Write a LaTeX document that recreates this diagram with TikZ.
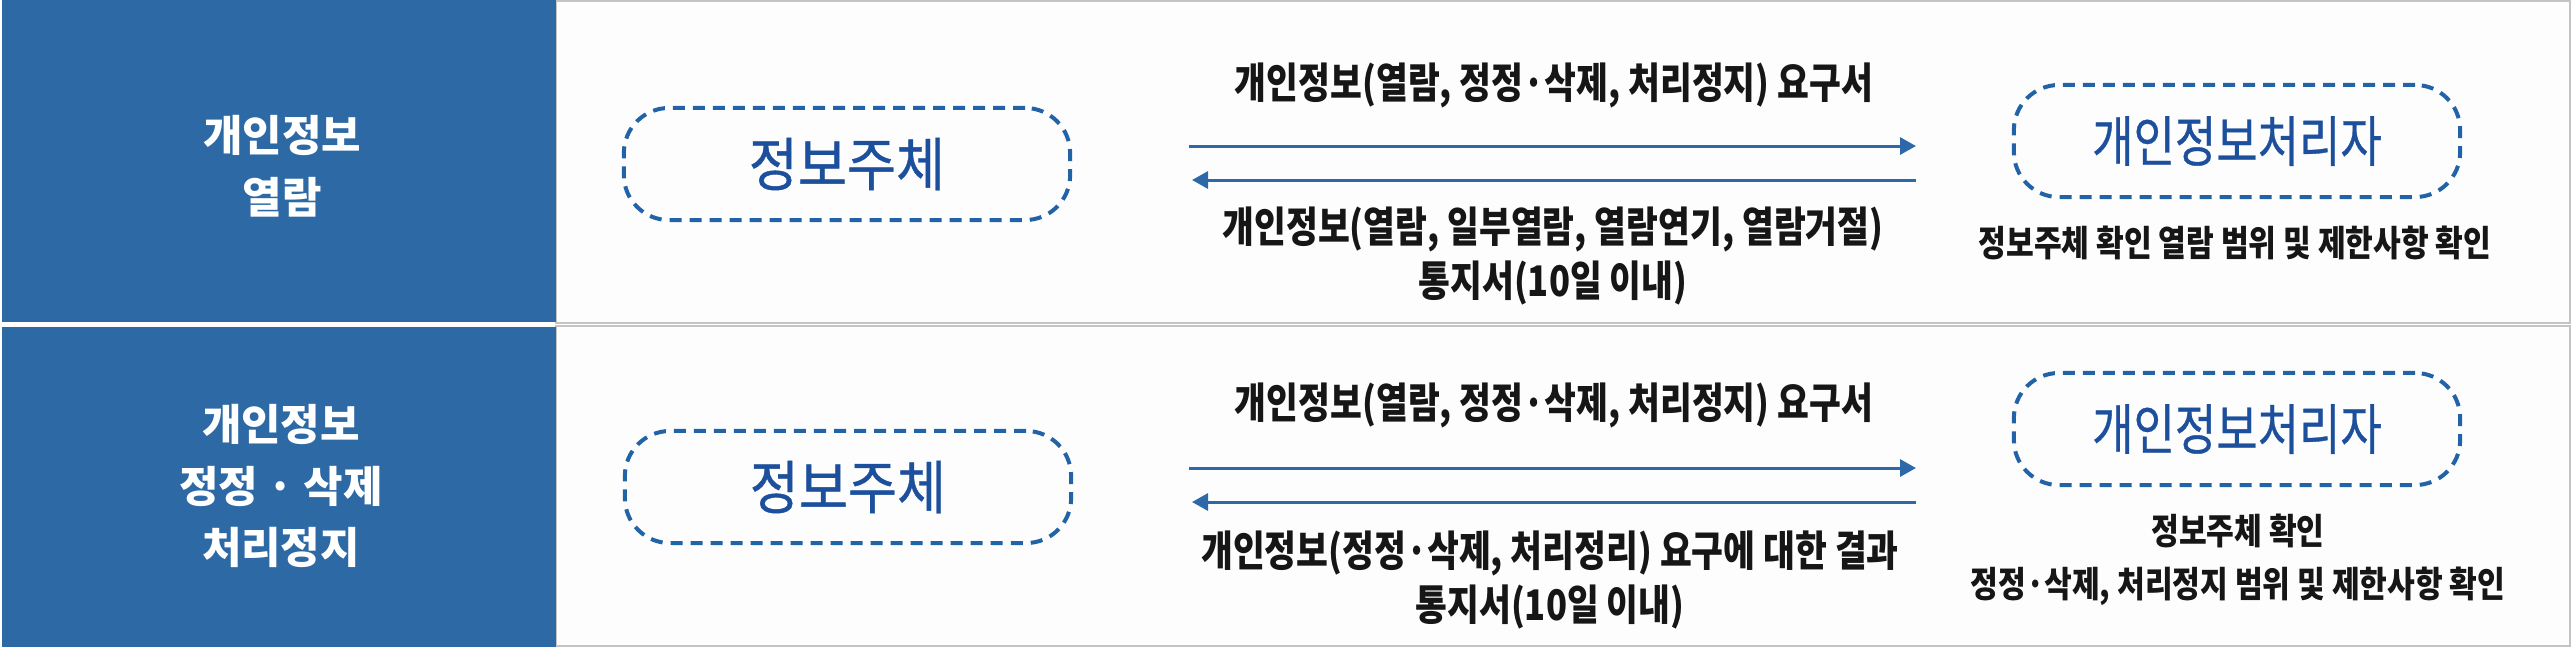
\documentclass[tikz,border=0pt]{standalone}
\usepackage{fontspec}
\newfontfamily\kr{Noto Sans CJK KR}
\newfontfamily\krn{Noto Sans CJK KR}[FakeStretch=0.82]
\newfontfamily\krs{Noto Sans CJK KR}[FakeStretch=0.92,FakeBold=0.7]
\newfontfamily\krq{Noto Sans CJK KR}[FakeStretch=0.82,FakeBold=0.6]
\newfontfamily\krp{Noto Sans CJK KR}[FakeStretch=0.84]
\usetikzlibrary{arrows.meta}
\definecolor{bandblue}{HTML}{2C69A5}
\definecolor{dashblue}{HTML}{2263A8}
\definecolor{txtblue}{HTML}{1C4F9C}
\definecolor{arrowblue}{HTML}{2D68A8}
\definecolor{panelline}{HTML}{C4C4C4}
\definecolor{panelfill}{HTML}{FDFDFE}
\definecolor{ink}{HTML}{161616}
\tikzset{
  band/.style={fill=bandblue, draw=none},
  panel/.style={fill=panelfill, draw=panelline, line width=0.025cm},
  bandlabel/.style={text=white, align=center, inner sep=0pt,
    font=\kr\bfseries\fontsize{12.2pt}{17.6pt}\selectfont},
  actorbox/.style={draw=dashblue, line width=0.04cm, dash pattern=on 0.12cm off 0.08cm,
    rounded corners=0.45cm, minimum width=4.46cm, minimum height=1.12cm,
    text=txtblue, inner sep=0pt},
  subjfont/.style={font=\krs\fontsize{16.5pt}{18pt}\selectfont},
  procfont/.style={font=\krq\fontsize{15.6pt}{18pt}\selectfont},
  msg/.style={text=ink, align=center, inner sep=0pt,
    font=\krn\bfseries\fontsize{12pt}{15.1pt}\selectfont},
  note/.style={text=ink, align=center, inner sep=0pt,
    font=\krp\bfseries\fontsize{10.2pt}{15.1pt}\selectfont},
  flow/.style={draw=arrowblue, line width=0.03cm,
    -{Triangle[length=0.16cm,width=0.17cm]}, arrowblue}
}
\begin{document}
\begin{tikzpicture}[x=0.01cm, y=-0.01cm]
\useasboundingbox[fill=white] (0,0) rectangle (2572,656);
% row panels
\draw[panel] (556,1) rectangle (2570,323);
\draw[panel] (556,326) rectangle (2570,646);
\fill[band] (2,0) rectangle (556,322);
\fill[band] (2,327) rectangle (556,647);
% row 1
\node[bandlabel] (lab1) at (282,166) {개인정보\\열람};
\node[actorbox, subjfont] (subj1) at (847,164) {정보주체};
\node[actorbox, procfont] (proc1) at (2237,141) {개인정보처리자};
\node[msg] (req1) at (1554,85) {개인정보(열람, 정정·삭제, 처리정지) 요구서};
\node[msg] (res1) at (1553,256) {개인정보(열람, 일부열람, 열람연기, 열람거절)\\통지서(10일 이내)};
\node[note] (chk1) at (2235,243) {정보주체 확인 열람 범위 및 제한사항 확인};
\coordinate (a1s) at (1189,146);
\coordinate (a1e) at (1916,146);
\coordinate (a2s) at (1916,180);
\coordinate (a2e) at (1192,180);
\draw[flow] (a1s) -- (a1e);
\draw[flow] (a2s) -- (a2e);
% row 2
\node[bandlabel] (lab2) at (281,486) {개인정보\\정정 · 삭제\\처리정지};
\node[actorbox, subjfont] (subj2) at (848,487) {정보주체};
\node[actorbox, procfont] (proc2) at (2237,429) {개인정보처리자};
\node[msg] (req2) at (1554,405) {개인정보(열람, 정정·삭제, 처리정지) 요구서};
\node[msg] (res2) at (1550,580) {개인정보(정정·삭제, 처리정리) 요구에 대한 결과\\통지서(10일 이내)};
\node[note] (chk2) at (2238,560) {정보주체 확인\\정정·삭제, 처리정지 범위 및 제한사항 확인};
\coordinate (b1s) at (1189,468);
\coordinate (b1e) at (1916,468);
\coordinate (b2s) at (1916,502);
\coordinate (b2e) at (1192,502);
\draw[flow] (b1s) -- (b1e);
\draw[flow] (b2s) -- (b2e);
\end{tikzpicture}
\end{document}
